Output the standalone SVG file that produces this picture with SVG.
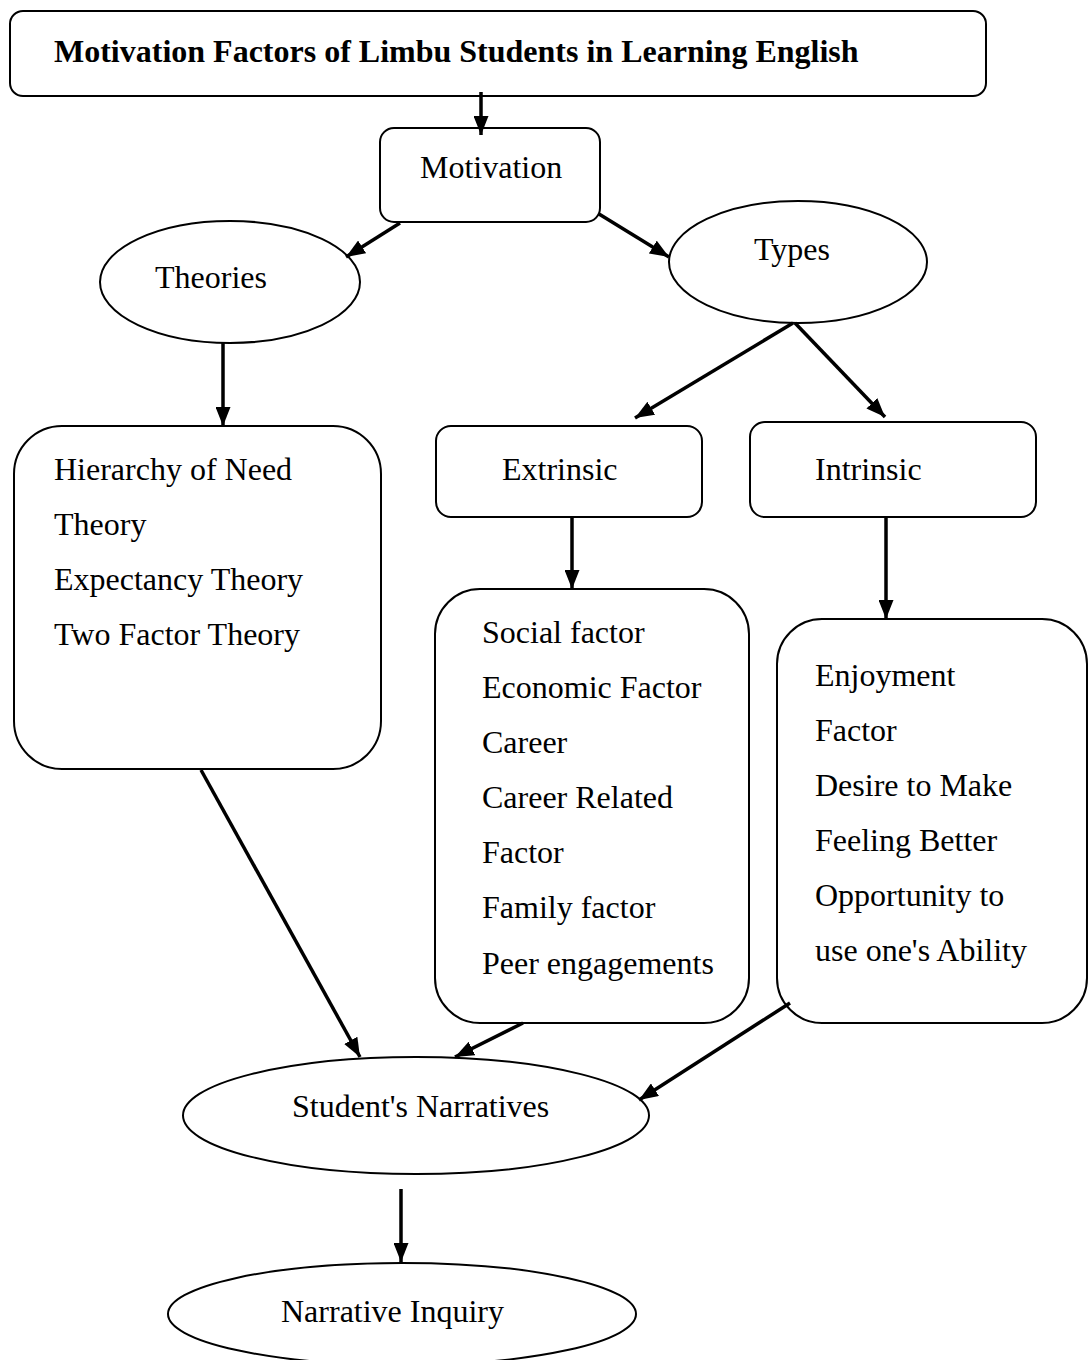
<svg xmlns="http://www.w3.org/2000/svg" width="1088" height="1360" viewBox="0 0 1088 1360">
<style>
.box{fill:#fff;stroke:#000;stroke-width:2}
.t{font-family:"Liberation Serif","Times New Roman",serif;font-size:32px;fill:#000}
.b{font-weight:bold}
.c{stroke:#000;stroke-width:3.5;fill:none;marker-end:url(#ah)}
</style>
<defs>
<marker id="ah" markerUnits="userSpaceOnUse" markerWidth="19" markerHeight="15" viewBox="0 0 19 15" refX="19" refY="7.5" orient="auto">
<path d="M0,0 L19,7.5 L0,15 z" fill="#000"/>
</marker>
</defs>
<rect width="1088" height="1360" fill="#fff"/>
<g id="title">
<rect class="box" x="10" y="11" width="976" height="85" rx="13"/>
<text class="t b" x="54" y="62">Motivation Factors of Limbu Students in Learning English</text>
</g>
<g id="motivation">
<rect class="box" x="380" y="128" width="220" height="94" rx="14"/>
<text class="t" x="420" y="178">Motivation</text>
</g>
<g id="theories">
<ellipse class="box" cx="230" cy="282" rx="130" ry="61"/>
<text class="t" x="155" y="288">Theories</text>
</g>
<g id="types">
<ellipse class="box" cx="798" cy="262" rx="129" ry="61"/>
<text class="t" x="754" y="260">Types</text>
</g>
<g id="theory-list">
<rect class="box" x="14" y="426" width="367" height="343" rx="48"/>
<text class="t" x="54" y="480">Hierarchy of Need</text>
<text class="t" x="54" y="535">Theory</text>
<text class="t" x="54" y="590">Expectancy Theory</text>
<text class="t" x="54" y="645">Two Factor Theory</text>
</g>
<g id="extrinsic">
<rect class="box" x="436" y="426" width="266" height="91" rx="15"/>
<text class="t" x="502" y="480">Extrinsic</text>
</g>
<g id="intrinsic">
<rect class="box" x="750" y="422" width="286" height="95" rx="15"/>
<text class="t" x="815" y="480">Intrinsic</text>
</g>
<g id="extrinsic-list">
<rect class="box" x="435" y="589" width="314" height="434" rx="45"/>
<text class="t" x="482" y="643">Social factor</text>
<text class="t" x="482" y="698">Economic Factor</text>
<text class="t" x="482" y="753">Career</text>
<text class="t" x="482" y="808">Career Related</text>
<text class="t" x="482" y="863">Factor</text>
<text class="t" x="482" y="918">Family factor</text>
<text class="t" x="482" y="974">Peer engagements</text>
</g>
<g id="intrinsic-list">
<rect class="box" x="777" y="619" width="310" height="404" rx="45"/>
<text class="t" x="815" y="686">Enjoyment</text>
<text class="t" x="815" y="741">Factor</text>
<text class="t" x="815" y="796">Desire to Make</text>
<text class="t" x="815" y="851">Feeling Better</text>
<text class="t" x="815" y="906">Opportunity to</text>
<text class="t" x="815" y="961">use one's Ability</text>
</g>
<g id="narratives">
<ellipse class="box" cx="416" cy="1115.5" rx="233" ry="58.5"/>
<text class="t" x="292" y="1117">Student's Narratives</text>
</g>
<g id="inquiry">
<ellipse class="box" cx="402" cy="1314" rx="234" ry="51"/>
<text class="t" x="281" y="1322">Narrative Inquiry</text>
</g>
<g id="connectors">
<line class="c" x1="481" y1="92" x2="481" y2="135"/>
<line class="c" x1="400" y1="223" x2="346" y2="257"/>
<line class="c" x1="599" y1="214" x2="669" y2="257"/>
<line class="c" x1="223" y1="343" x2="223" y2="426"/>
<line class="c" x1="793" y1="323" x2="635" y2="418"/>
<line class="c" x1="795" y1="323" x2="885" y2="417"/>
<line class="c" x1="572" y1="517" x2="572" y2="589"/>
<line class="c" x1="886" y1="517" x2="886" y2="619"/>
<line class="c" x1="201" y1="770" x2="360" y2="1057"/>
<line class="c" x1="523" y1="1023" x2="455" y2="1057"/>
<line class="c" x1="790" y1="1003" x2="639" y2="1100"/>
<line class="c" x1="401" y1="1189" x2="401" y2="1262"/>
</g>
</svg>
